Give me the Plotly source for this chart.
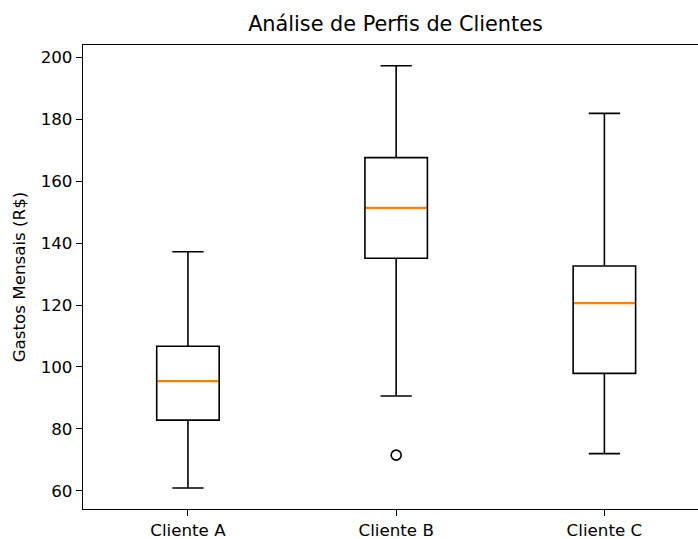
import plotly.graph_objects as go

categories = ["Cliente A", "Cliente B", "Cliente C"]
lower_whisker = [60.9, 90.6, 72.0]
q1_values = [82.8, 135.1, 97.9]
median_values = [95.4, 151.4, 120.6]
q3_values = [106.7, 167.6, 132.6]
upper_whisker = [137.2, 197.3, 181.9]
outlier_cat = [1]
outlier_values = [71.5]
y_ticks = [60, 80, 100, 120, 140, 160, 180, 200]

positions = list(range(len(categories)))
BOX_W = 0.3
FONT = "DejaVu Sans"

fig = go.Figure()
fig.add_trace(go.Box(
    x=positions, q1=q1_values, median=median_values, q3=q3_values,
    lowerfence=lower_whisker, upperfence=upper_whisker,
    width=BOX_W, whiskerwidth=0.5, boxpoints=False,
    fillcolor="rgba(0,0,0,0)", line=dict(color="black", width=1.6),
    showlegend=False, hoverinfo="skip",
))

mx, my = [], []
for p, m in zip(positions, median_values):
    mx += [p - BOX_W / 2 + 0.004, p + BOX_W / 2 - 0.004, None]
    my += [m, m, None]
fig.add_trace(go.Scatter(x=mx, y=my, mode="lines",
                         line=dict(color="#ff7f0e", width=2.2),
                         showlegend=False, hoverinfo="skip"))

fig.add_trace(go.Scatter(x=outlier_cat, y=outlier_values, mode="markers",
                         marker=dict(symbol="circle-open", size=10, color="black",
                                     line=dict(width=1.6, color="black")),
                         showlegend=False, hoverinfo="skip"))

fig.update_layout(
    width=706, height=539,
    margin=dict(l=83, r=0, t=45, b=30),
    paper_bgcolor="white", plot_bgcolor="white",
    font=dict(family=FONT, size=16.7, color="black"),
    title=dict(text="Análise de Perfis de Clientes", xref="container", yref="container",
               x=395.5 / 706, y=1 - 24 / 539, xanchor="center", yanchor="middle",
               font=dict(size=20.8, family=FONT, color="black")),
    xaxis=dict(range=[-0.504, 2.488], tickvals=positions, ticktext=categories,
               showgrid=False, zeroline=False, showline=True, linecolor="black",
               linewidth=1.33, mirror=True, ticks="outside", ticklen=6,
               tickcolor="black", tickwidth=1.33, tickfont=dict(size=16.7)),
    yaxis=dict(range=[54.1, 204.0], tickvals=y_ticks,
               showgrid=False, zeroline=False, showline=True, linecolor="black",
               linewidth=1.33, ticks="outside", ticklen=6, mirror=False,
               tickcolor="black", tickwidth=1.33, tickfont=dict(size=16.7),
               title=dict(text="Gastos Mensais (R$)", font=dict(size=16.7), standoff=10)),
)

fig.write_html("out.html", config={"displayModeBar": False},
               post_script="document.body.style.margin='0';document.body.style.overflow='hidden';")
